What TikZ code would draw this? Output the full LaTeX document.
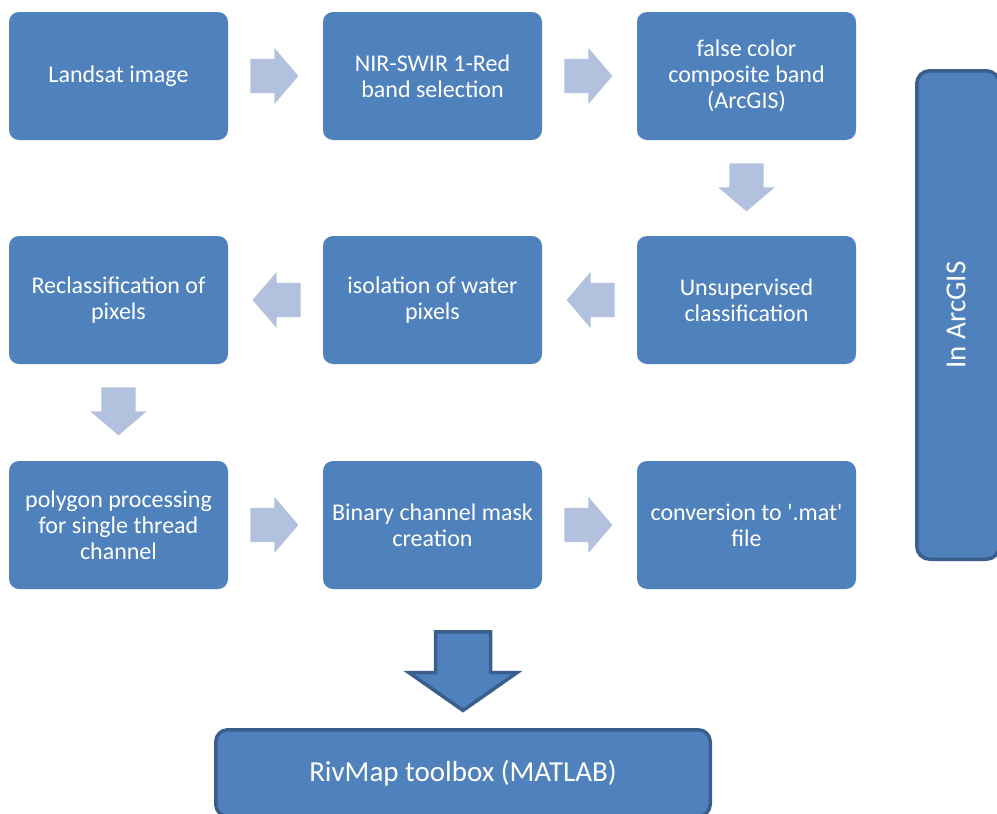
\documentclass[tikz,border=0pt]{standalone}
\usepackage{fontspec}
\setmainfont{Carlito}
\usetikzlibrary{calc, positioning, shapes.arrows}
\definecolor{boxblue}{RGB}{79,129,189}
\definecolor{boxedge}{RGB}{58,95,140}
\definecolor{arrlight}{RGB}{178,194,222}

\begin{document}
\begin{tikzpicture}[x=1pt, y=-1pt,
    stage/.style={fill=boxblue, rounded corners=10pt, minimum width=219pt, minimum height=128pt, inner sep=0pt, align=center, text=white, font=\fontsize{24}{26}\selectfont},
    flow/.style={single arrow, fill=arrlight, inner sep=0pt, minimum height=48pt, single arrow head extend=11pt, single arrow tip angle=99, anchor=tail},
    tool/.style={fill=boxblue, draw=boxedge, line width=3.5pt, rounded corners=12pt, inner sep=0pt, align=center, text=white}]
    \useasboundingbox (0,0) rectangle (997,814);
    \clip (0,0) rectangle (997,814);

    % first row, left to right
    \node[stage] (land) at (118.5,76) {Landsat image};
    \node[stage] (nir) at (432.5,76) {NIR-SWIR 1-Red\\band selection};
    \node[stage] (fcc) at (746.5,76) {false color\\composite band\\(ArcGIS)};
    % second row, right to left
    \node[stage] (unsup) at (746.5,300) {Unsupervised\\classification};
    \node[stage] (iso) at (432.5,300) {isolation of water\\pixels};
    \node[stage] (recl) at (118.5,300) {Reclassification of\\pixels};
    % third row
    \node[stage] (poly) at (118.5,525) {polygon processing\\for single thread\\channel};
    \node[stage] (bin) at (432.5,525) {Binary channel mask\\creation};
    \node[stage] (conv) at (746.5,525) {conversion to \textquotesingle.mat\textquotesingle\\file};

    \node[tool, minimum width=494.5pt, minimum height=86.5pt, font=\fontsize{29}{32}\selectfont] (rivmap) at (463,773) {RivMap toolbox (MATLAB)};
    \node[tool, minimum width=82.5pt, minimum height=488.5pt, rounded corners=13pt] (arcgis) at (958,315) {};
    \node[rotate=90, text=white, font=\fontsize{29}{32}\selectfont] (arcgistext) at ([xshift=-2pt]arcgis.center) {In ArcGIS};

    % light block arrows between the stages
    \node[flow] (a1) at ([xshift=22pt]land.east) {\rule{0pt}{34pt}};
    \node[flow] (a2) at ([xshift=22pt]nir.east) {\rule{0pt}{34pt}};
    \node[flow, rotate=-90] (a3) at ([yshift=-23pt]fcc.south) {\rule{0pt}{34pt}};
    \node[flow, rotate=180] (a4) at ([xshift=-22pt]unsup.west) {\rule{0pt}{34pt}};
    \node[flow, rotate=180] (a5) at ([xshift=-22pt]iso.west) {\rule{0pt}{34pt}};
    \node[flow, rotate=-90] (a6) at ([yshift=-23pt]recl.south) {\rule{0pt}{34pt}};
    \node[flow] (a7) at ([xshift=22pt]poly.east) {\rule{0pt}{34pt}};
    \node[flow] (a8) at ([xshift=22pt]bin.east) {\rule{0pt}{34pt}};

    % big arrow down to the toolbox
    \node[single arrow, rotate=-90, anchor=tail, fill=boxblue, draw=boxedge, line width=3.5pt, inner sep=0pt, minimum height=78.5pt, single arrow head extend=26.5pt, single arrow tip angle=110] (big) at ($(bin.south -| rivmap.north)+(0,41)$) {\rule{0pt}{51.5pt}};
\end{tikzpicture}
\end{document}
